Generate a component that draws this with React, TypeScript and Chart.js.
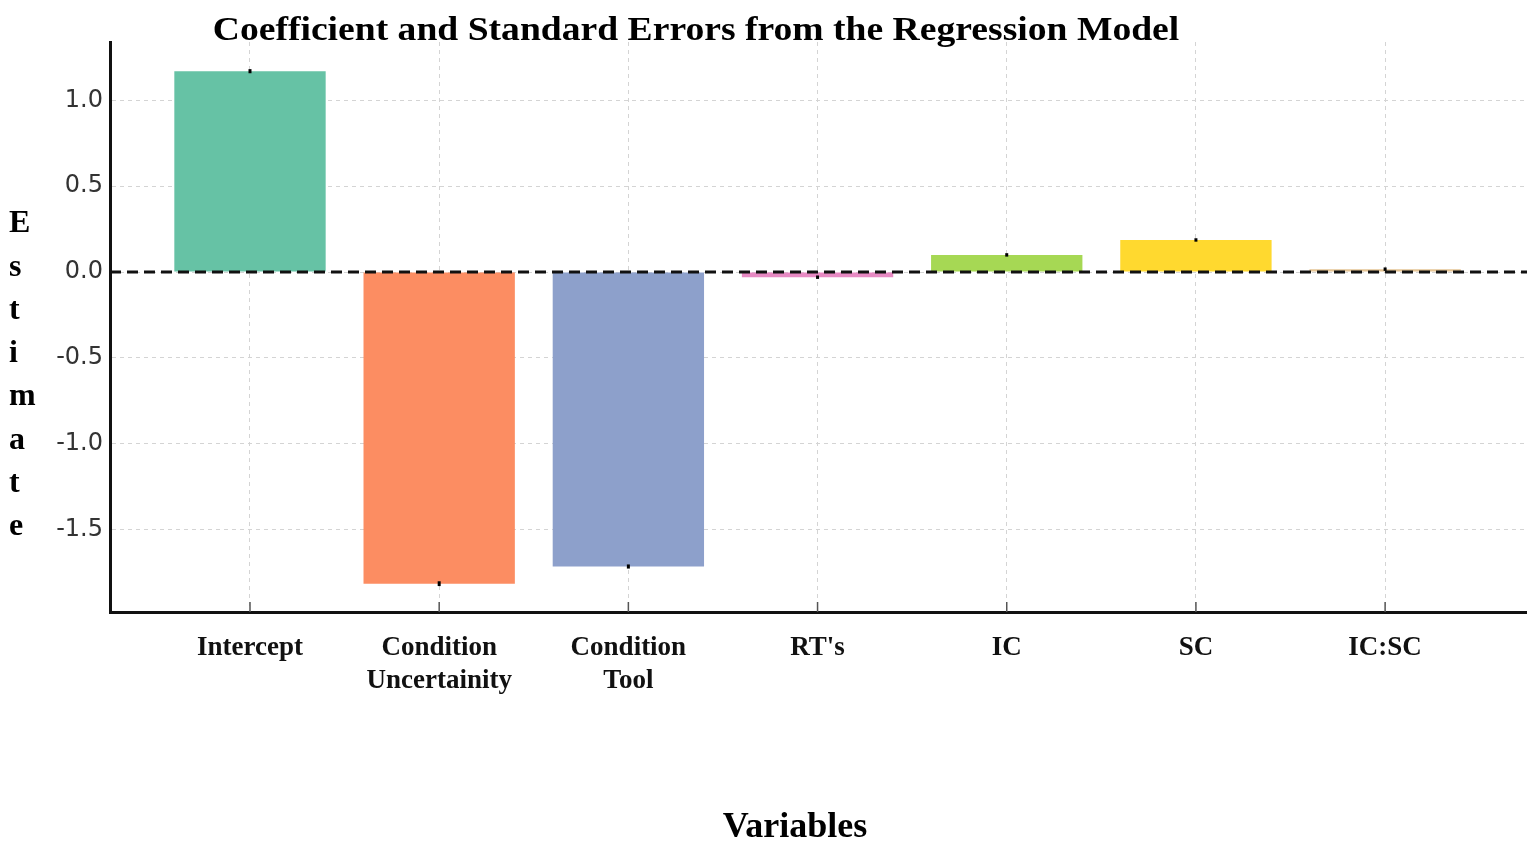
import React, { useEffect, useRef } from 'react';
import { Chart, registerables } from 'chart.js';
Chart.register(...registerables);

const categories = ['Intercept', 'Condition\nUncertainity', 'Condition\nTool', "RT's", 'IC', 'SC', 'IC:SC'];
const estimates = [1.17, -1.815, -1.715, -0.03, 0.1, 0.187, 0.017];
const stdErrors = [0.012, 0.014, 0.012, 0.01, 0.01, 0.01, 0.01];
const barColors = ['#66c2a5', '#fc8d62', '#8da0cb', '#e78ac3', '#a6d854', '#ffd92f', '#e5c494'];
const yTicks = [-1.5, -1.0, -0.5, 0.0, 0.5, 1.0];
const xTicks = [0, 1, 2, 3, 4, 5, 6];
const titleText = 'Coefficient and Standard Errors from the Regression Model';
const yTitle = 'Estimate';
const xTitle = 'Variables';

const decor = {
  id: 'decor',
  afterDatasetsDraw(chart: any) {
    const { ctx, chartArea, scales } = chart;
    const x = scales.x;
    const y = scales.y;
    ctx.save();
    // zero line
    const y0 = y.getPixelForValue(0);
    ctx.setLineDash([11, 6]);
    ctx.lineWidth = 3;
    ctx.strokeStyle = '#111';
    ctx.beginPath();
    ctx.moveTo(chartArea.left, y0);
    ctx.lineTo(chartArea.right, y0);
    ctx.stroke();
    ctx.setLineDash([]);
    // error bars
    ctx.lineWidth = 3;
    ctx.strokeStyle = '#000';
    estimates.forEach((v, i) => {
      const px = x.getPixelForValue(i);
      ctx.beginPath();
      ctx.moveTo(px, y.getPixelForValue(v - stdErrors[i]));
      ctx.lineTo(px, y.getPixelForValue(v + stdErrors[i]));
      ctx.stroke();
    });
    // inner ticks on x axis
    ctx.lineWidth = 1.5;
    ctx.strokeStyle = '#555';
    xTicks.forEach((t) => {
      const px = x.getPixelForValue(t);
      ctx.beginPath();
      ctx.moveTo(px, chartArea.bottom);
      ctx.lineTo(px, chartArea.bottom - 10);
      ctx.stroke();
    });
    ctx.restore();
  },
  afterDraw(chart: any) {
    const { ctx } = chart;
    ctx.save();
    ctx.fillStyle = '#000';
    ctx.textAlign = 'center';
    ctx.textBaseline = 'middle';
    ctx.save();
    ctx.translate(688, 23);
    ctx.scale(1.14, 1);
    ctx.font = 'bold 33px "Liberation Serif"';
    ctx.fillText(titleText, 0, 0);
    ctx.restore();
    ctx.font = 'bold 36px "Liberation Serif"';
    ctx.fillText(xTitle, 787, 820);
    ctx.textAlign = 'left';
    ctx.font = 'bold 32px "Liberation Serif"';
    yTitle.split('').forEach((ch, i) => {
      ctx.fillText(ch, 1, 216 + i * 43.3);
    });
    ctx.restore();
  },
};

export default function App() {
  const ref = useRef<HTMLCanvasElement>(null);
  useEffect(() => {
    const chart = new Chart(ref.current as HTMLCanvasElement, {
      type: 'bar',
      data: {
        datasets: [
          {
            data: estimates.map((v, i) => ({ x: i, y: v })) as any,
            backgroundColor: barColors,
            borderWidth: 0,
            barPercentage: 0.8,
            categoryPercentage: 1,
          },
        ],
      },
      options: {
        responsive: false,
        animation: false,
        layout: { padding: { left: 0, right: 0, top: 34, bottom: 0 } },
        plugins: { legend: { display: false }, tooltip: { enabled: false }, title: { display: false } },
        scales: {
          x: {
            type: 'linear',
            min: -0.74,
            max: 6.75,
            offset: false,
            afterBuildTicks: (s: any) => {
              s.ticks = xTicks.map((v) => ({ value: v }));
            },
            afterFit: (s: any) => {
              s.height = 227;
            },
            grid: { color: '#d4d4d4', lineWidth: 1, drawTicks: false, offset: false },
            border: { display: true, color: '#111', width: 3, dash: [4, 4] },
            ticks: {
              autoSkip: false,
              maxRotation: 0,
              padding: 20,
              color: '#111',
              font: { family: 'Liberation Serif', size: 27, weight: 'bold', lineHeight: 1.2 },
              callback: (v: any) => categories[Number(v)].split('\n'),
            },
          },
          y: {
            type: 'linear',
            min: -1.98,
            max: 1.34,
            afterBuildTicks: (s: any) => {
              s.ticks = yTicks.map((v) => ({ value: v }));
            },
            afterFit: (s: any) => {
              s.width = 102;
            },
            grid: { color: '#d4d4d4', lineWidth: 1, drawTicks: false },
            border: { display: true, color: '#111', width: 3, dash: [4, 4] },
            ticks: {
              padding: 7,
              color: '#333',
              font: { family: 'DejaVu Sans', size: 24 },
              callback: (v: any) => Number(v).toFixed(1),
            },
          },
        },
      },
      plugins: [decor],
    } as any);
    return () => chart.destroy();
  }, []);
  return <canvas ref={ref} width={1519} height={831} style={{ display: 'block' }} />;
}
